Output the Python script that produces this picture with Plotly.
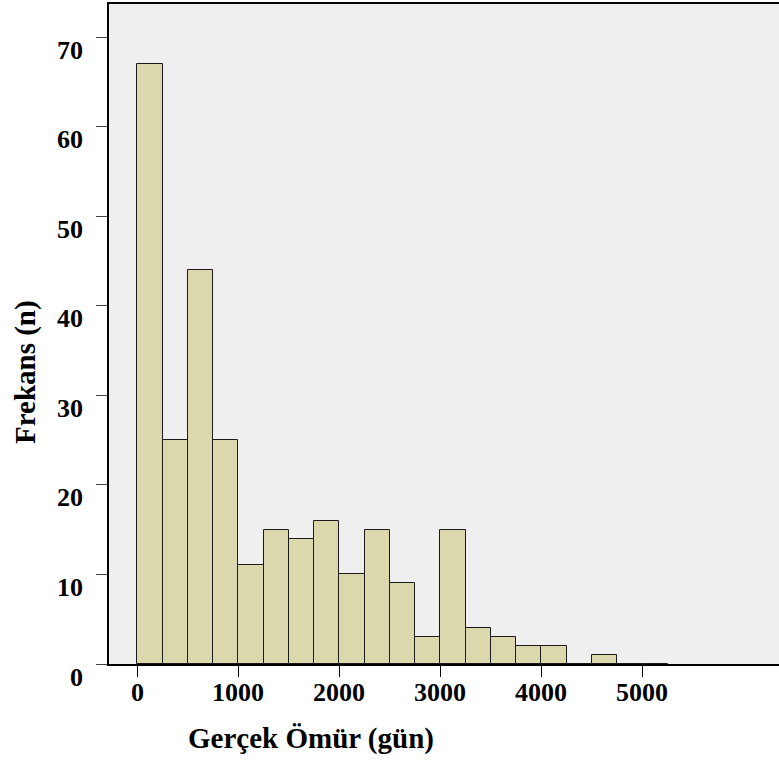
import plotly.graph_objects as go

# Histogram bins (days) and frequencies
bin_starts = [0, 250, 500, 750, 1000, 1250, 1500, 1750, 2000, 2250, 2500, 2750,
              3000, 3250, 3500, 3750, 4000, 4250, 4500, 4750, 5000]
bin_width = 250
counts = [67, 25, 44, 25, 11, 15, 14, 16, 10, 15, 9, 3,
          15, 4, 3, 2, 2, 0, 1, 0, 0]

x_tick_vals = [0, 1000, 2000, 3000, 4000, 5000]
x_tick_text = ["0", "1000", "2000", "3000", "4000", "5000"]
y_tick_vals = [0, 10, 20, 30, 40, 50, 60, 70]
y_tick_text = ["0", "10", "20", "30", "40", "50", "60", "70"]

x_title = "Gerçek Ömür (gün)"
y_title = "Frekans (n)"

FONT = "Liberation Serif"
centers = [s + bin_width / 2 for s in bin_starts]

fig = go.Figure()
fig.add_trace(go.Bar(
    x=centers, y=counts, width=[bin_width] * len(counts),
    marker=dict(color="#DBD8AD", line=dict(color="#1a1a1a", width=1)),
    showlegend=False, hoverinfo="skip",
))

annotations = []
for v, t in zip(y_tick_vals, y_tick_text):
    annotations.append(dict(
        x=0, xref="paper", y=v, yref="y", text="<b>%s</b>" % t,
        xanchor="right", yanchor="middle", xshift=-24, yshift=-13,
        showarrow=False, font=dict(family=FONT, size=26, color="black")))
for v, t in zip(x_tick_vals, x_tick_text):
    annotations.append(dict(
        x=v, xref="x", y=0, yref="paper", text="<b>%s</b>" % t,
        xanchor="center", yanchor="middle", yshift=-28,
        showarrow=False, font=dict(family=FONT, size=26, color="black")))
annotations.append(dict(
    x=0.3015, xref="paper", y=0, yref="paper", text="<b>%s</b>" % x_title,
    xanchor="center", yanchor="middle", yshift=-74,
    showarrow=False, font=dict(family=FONT, size=29, color="black")))
annotations.append(dict(
    x=0, xref="paper", y=0.4424, yref="paper", text="<b>%s</b>" % y_title,
    xanchor="center", yanchor="middle", xshift=-84, textangle=-90,
    showarrow=False, font=dict(family=FONT, size=29, color="black")))

fig.update_layout(
    width=779, height=760,
    margin=dict(l=109, r=0, t=4, b=96),
    paper_bgcolor="white", plot_bgcolor="#EFEFEF",
    bargap=0,
    annotations=annotations,
    xaxis=dict(range=[-280, 6354], tickvals=x_tick_vals, showticklabels=False,
               ticks="outside", ticklen=11, tickcolor="black", tickwidth=1,
               showline=True, linecolor="black", linewidth=1.5, mirror=True,
               showgrid=False, zeroline=False, fixedrange=True),
    yaxis=dict(range=[0, 73.7], tickvals=y_tick_vals, showticklabels=False,
               ticks="outside", ticklen=11, tickcolor="#444", tickwidth=1,
               showline=True, linecolor="black", linewidth=1.5, mirror=False,
               showgrid=False, zeroline=False, fixedrange=True),
)

fig.write_html(
    "out.html",
    config={"displayModeBar": False},
    post_script="document.body.style.margin='0';document.body.style.overflow='hidden';",
)
